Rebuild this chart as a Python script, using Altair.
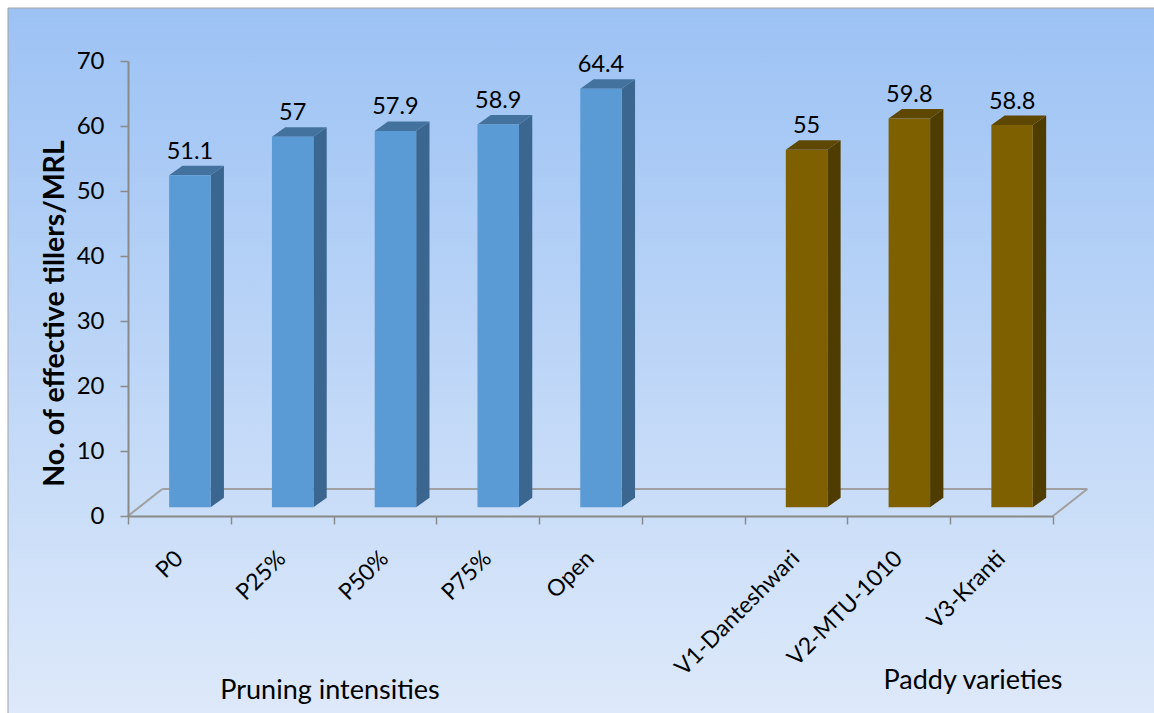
import altair as alt
import pandas as pd

# ---- data -------------------------------------------------------------
pruning_labels = ["P0", "P25%", "P50%", "P75%", "Open"]
pruning_values = [51.1, 57, 57.9, 58.9, 64.4]
variety_labels = ["V1-Danteshwari", "V2-MTU-1010", "V3-Kranti"]
variety_values = [55, 59.8, 58.8]
group_titles = ["Pruning intensities", "Paddy varieties"]
y_ticks = [0, 10, 20, 30, 40, 50, 60, 70]
y_title = "No. of effective tillers/MRL"

# ---- layout / style ---------------------------------------------------
W, H = 925, 455                 # plot area
N_SLOTS = 9                     # 5 pruning + 1 empty + 3 varieties
Y_MAX = 70
ux = W / N_SLOTS                # px per slot
uy = H / Y_MAX                  # px per unit

BAR_W_PX = 41.5
SHIFT_PX = 10.5                 # bars sit mid-depth on the floor
BASE_PX = 8.7
DEPTH_X_PX, DEPTH_Y_PX = 13.3, 9.5
FLOOR_DX_PX, FLOOR_DY_PX = 34.3, 27

FONT = "Lato"
AXIS_GRAY = "#8a8a8a"
FRONT = ["#5b9bd5", "#7f6000"]
SIDE = ["#3a6690", "#4f3c00"]
TOP = ["#44729e", "#5e4700"]

# ---- tables -----------------------------------------------------------
rows = []
for i, (c, v) in enumerate(zip(pruning_labels, pruning_values)):
    rows.append({"slot": i, "name": c, "value": v, "group": group_titles[0]})
for i, (c, v) in enumerate(zip(variety_labels, variety_values)):
    rows.append({"slot": 6 + i, "name": c, "value": v, "group": group_titles[1]})
bars = pd.DataFrame(rows)

hw = BAR_W_PX / 2 / ux
dxu = DEPTH_X_PX / ux
dyu = DEPTH_Y_PX / uy
bars["center"] = bars["slot"] + 0.5
bars["xc"] = bars["center"] + SHIFT_PX / ux
bars["xl"] = bars["xc"] - hw
bars["xr"] = bars["xc"] + hw
bars["y0"] = BASE_PX / uy
bars["yt"] = bars["value"] + bars["y0"]
bars["ylab"] = bars["yt"] + dyu

side_rows, top_rows = [], []
for b in bars.to_dict("records"):
    side_rows.append({"name": b["name"], "group": b["group"], "sx": b["xr"],
                      "ytop": b["yt"], "ybot": b["y0"]})
    side_rows.append({"name": b["name"], "group": b["group"], "sx": b["xr"] + dxu,
                      "ytop": b["yt"] + dyu, "ybot": b["y0"] + dyu})
    top_rows.append({"name": b["name"], "group": b["group"], "ty": b["yt"],
                     "xa": b["xl"], "xb": b["xr"]})
    top_rows.append({"name": b["name"], "group": b["group"], "ty": b["yt"] + dyu,
                     "xa": b["xl"] + dxu, "xb": b["xr"] + dxu})
side = pd.DataFrame(side_rows)
top = pd.DataFrame(top_rows)

fdx = FLOOR_DX_PX / ux
fdy = FLOOR_DY_PX / uy
floor = pd.DataFrame([
    {"fx": 0, "fy": 0, "fx2": fdx, "fy2": fdy},
    {"fx": fdx, "fy": fdy, "fx2": N_SLOTS + fdx, "fy2": fdy},
    {"fx": N_SLOTS, "fy": 0, "fx2": N_SLOTS + fdx, "fy2": fdy},
])

xs = alt.Scale(domain=[0, N_SLOTS], nice=False, zero=False)
ys = alt.Scale(domain=[0, Y_MAX], nice=False, zero=False)

X_AXIS = alt.Axis(values=list(range(N_SLOTS + 1)), labels=False, grid=False,
                  domainColor=AXIS_GRAY, domainWidth=2, tickColor=AXIS_GRAY,
                  tickWidth=1.5, tickSize=8, zindex=1, title=None)
Y_AXIS = alt.Axis(values=y_ticks, grid=False, domainColor=AXIS_GRAY, domainWidth=2,
                  tickColor=AXIS_GRAY, tickWidth=1.5, tickSize=8, labelPadding=16,
                  labelFont=FONT, labelFontSize=24, labelColor="black",
                  title=y_title, titleFont=FONT, titleFontSize=28.5, titleFontWeight="bold",
                  titleColor="black", titleX=-74, titleY=252,
                  titleAlign="center", titleBaseline="middle", titleAngle=270, zindex=1)


def xq(field):
    return alt.X(field, type="quantitative", scale=xs, axis=X_AXIS)


def yq(field):
    return alt.Y(field, type="quantitative", scale=ys, axis=Y_AXIS)


def shade(palette):
    return alt.Color("group:N", scale=alt.Scale(domain=group_titles, range=palette),
                     legend=None)


# ---- layers -----------------------------------------------------------
background = alt.Chart(alt.Data(values=[{}])).mark_rect(
    fill=alt.LinearGradient(
        gradient="linear", x1=0, x2=0, y1=0, y2=1,
        stops=[alt.GradientStop(offset=0, color="#9cc2f4"),
               alt.GradientStop(offset=1, color="#dfeafa")]),
    stroke="#a3a3a3", strokeWidth=1,
).encode(
    x=alt.value(8 - 128), x2=alt.value(1170 - 128),
    y=alt.value(8 - 61), y2=alt.value(730 - 61),
)

floor_lines = alt.Chart(floor).mark_rule(color="#a0a0a0", strokeWidth=2).encode(
    x=xq("fx"), x2="fx2:Q", y=yq("fy"), y2="fy2:Q",
)

side_faces = alt.Chart(side).mark_area(orient="vertical").encode(
    x=xq("sx"), y=yq("ytop"), y2="ybot:Q",
    detail="name:N", color=shade(SIDE),
)

top_faces = alt.Chart(top).mark_area(orient="horizontal").encode(
    y=yq("ty"), x=xq("xa"), x2="xb:Q",
    detail="name:N", color=shade(TOP),
)

front_faces = alt.Chart(bars).mark_rect().encode(
    x=xq("xl"), x2="xr:Q", y=yq("y0"), y2="yt:Q", color=shade(FRONT),
)

value_labels = alt.Chart(bars).mark_text(
    font=FONT, fontSize=23.5, color="black", baseline="alphabetic", align="center", dy=-7,
).encode(
    x=xq("xc"), y=yq("ylab"), text=alt.Text("value:Q", format=".3~g"),
)

cat_labels = alt.Chart(bars).mark_text(
    font=FONT, fontSize=23, color="black", angle=315, align="right", baseline="middle",
).encode(
    x=xq("center"), y=alt.value(H + 39), text="name:N",
)

pruning_title = alt.Chart(alt.Data(values=[{}])).mark_text(
    text=group_titles[0], font=FONT, fontSize=27, color="black",
    align="center", baseline="alphabetic",
).encode(x=alt.value(202), y=alt.value(638))

variety_title = alt.Chart(alt.Data(values=[{}])).mark_text(
    text=group_titles[1], font=FONT, fontSize=27, color="black",
    align="center", baseline="alphabetic",
).encode(x=alt.value(845), y=alt.value(628))

chart = alt.layer(
    background, floor_lines, side_faces, top_faces, front_faces,
    value_labels, cat_labels, pruning_title, variety_title,
).resolve_scale(color="independent").properties(
    width=W, height=H,
    padding={"left": 128, "top": 61, "right": 1154 - 128 - W, "bottom": 713 - 61 - H},
    autosize=alt.AutoSizeParams(type="none"),
    background="white",
).configure_view(stroke=None)

chart.save("out.html", embed_options={"renderer": "svg", "actions": False})
